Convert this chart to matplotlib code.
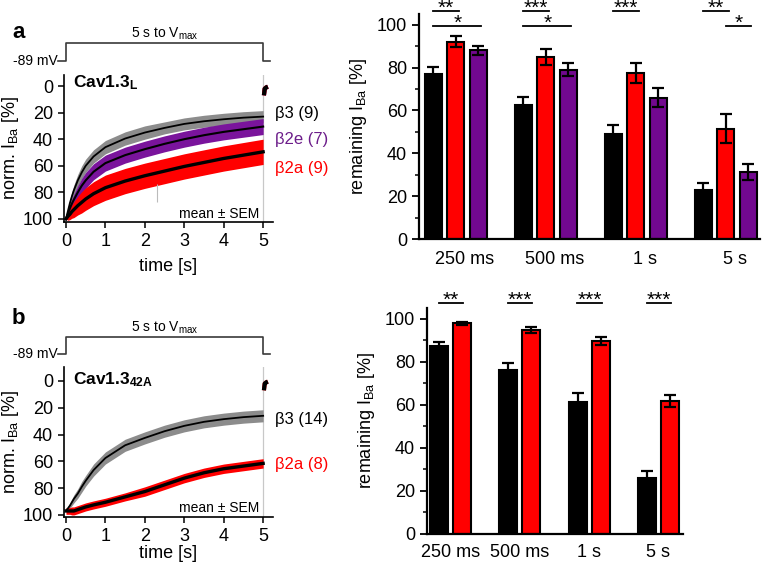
import matplotlib
matplotlib.use("Agg")
import matplotlib.pyplot as plt
import numpy as np
from matplotlib.ticker import MultipleLocator

plt.rcParams["font.family"] = ["Liberation Sans", "DejaVu Sans"]
plt.rcParams["mathtext.fontset"] = "custom"
plt.rcParams["mathtext.rm"] = "Liberation Sans"
plt.rcParams["mathtext.it"] = "Liberation Sans:italic"
plt.rcParams["mathtext.bf"] = "Liberation Sans:bold"

W, H = 762, 565

GRAY = "#8c8c8c"
PURPLE = "#72088f"
PURPLE_BAND = "#7a149c"
RED = "#ff0000"

# ---- traces: time [s] vs norm. I_Ba [%] ----
T = [0, 0.05, 0.1, 0.15, 0.2, 0.3, 0.4, 0.5, 0.7, 1.0, 1.5, 2.0, 2.5, 3.0, 3.5, 4.0, 4.5, 5.0]

# panel a
B3_A = [100, 94, 88, 83, 78.5, 71, 65, 60, 53, 46, 39.5, 35, 31.5, 28.5, 26.5, 25, 23.8, 23]
B3_A_SEM = [0, 2, 3, 3.5, 4, 4.5, 5, 5, 5, 5, 5, 5, 4.5, 4.5, 4.5, 4.5, 4.5, 4.5]
B2E_A = [100, 96, 92, 88.5, 85.5, 80, 75, 71, 64.5, 58, 52, 47.5, 43.5, 40, 37, 34.5, 32.5, 30.5]
B2E_A_SEM = [0, 2, 3, 3.5, 4, 5, 5.5, 6, 6, 6, 6, 6, 6, 6, 6, 6, 6, 6]
B2A_A = [100, 98, 96.5, 94.5, 93, 90, 87.5, 85, 81, 76.5, 71.5, 67.5, 64, 60.5, 57.5, 54.5, 52, 49.5]
B2A_A_SEM = [0, 3, 4, 5, 6, 7, 8, 8.5, 9, 9.5, 9.5, 9.5, 9.5, 9.5, 9.5, 9.5, 9.5, 9.5]

# panel b
B3_B = [97, 95, 93, 90.5, 88, 84, 79, 74.5, 66.5, 57.5, 48, 42.5, 37.5, 33.5, 30.5, 28.5, 27, 26]
B3_B_SEM = [0, 1.5, 2, 2.5, 3, 3.5, 4, 4, 4.5, 4.5, 4.5, 4.5, 4.5, 4.5, 4.5, 4.5, 4.5, 4.5]
B2A_B = [97, 97, 97, 97, 97, 96, 95, 94, 92.5, 90.5, 86.5, 82.5, 77.5, 72.5, 68.5, 65.5, 63.5, 61.5]
B2A_B_SEM = [2.5, 2.5, 2.5, 3, 3, 3, 3, 3, 3, 3, 3, 3.5, 3.5, 3.5, 3.5, 3.5, 3.5, 3.5]

# tail current after repolarisation
TAIL_T = [5.02, 5.04, 5.08, 5.12]
TAIL_I = [7, 2, 1, 0.5]
STEP_END = 5.0
ARTIFACT_T = 2.31
ARTIFACT_I = [74, 87]

# voltage protocol
PROTOCOL_T = [-0.2, 0, 0, 5, 5, 5.18]
PROTOCOL_LEVEL = [0, 0, 1, 1, 0, 0]

# ---- bar charts: remaining I_Ba [%] ----
TIMES = ["250 ms", "500 ms", "1 s", "5 s"]
BAR_A_B3 = [77, 62.5, 49, 22.7]
BAR_A_B3_ERR = [3.4, 3.9, 4.2, 3.3]
BAR_A_B2A = [92, 85, 77.5, 51.5]
BAR_A_B2A_ERR = [2.5, 3.6, 4.8, 6.7]
BAR_A_B2E = [88, 79, 66, 31.3]
BAR_A_B2E_ERR = [2.2, 3.1, 4.3, 3.9]

BAR_B_B3 = [87.3, 76, 61.5, 26]
BAR_B_B3_ERR = [2, 3.4, 4.2, 3.4]
BAR_B_B2A = [97.8, 95, 89.8, 62]
BAR_B_B2A_ERR = [0.7, 1.4, 1.9, 2.8]

# significance: group, from bar, to bar, row, stars
SIG_A_GROUP = [0, 0, 1, 1, 2, 3, 3]
SIG_A_FROM = [0, 0, 0, 0, 0, 0, 1]
SIG_A_TO = [1, 2, 1, 2, 1, 1, 2]
SIG_A_ROW = [0, 1, 0, 1, 0, 0, 1]
SIG_A_STARS = ["**", "*", "***", "*", "***", "**", "*"]

SIG_B_STARS = ["**", "***", "***", "***"]


def px_box(left, top, right, bottom):
    return [left / W, 1 - bottom / H, (right - left) / W, (bottom - top) / H]


def style_trace_axes(ax, ylim):
    ax.set_xlim(-0.05, 5.25)
    ax.set_ylim(*ylim)
    for s in ["top", "right"]:
        ax.spines[s].set_visible(False)
    for s in ["left", "bottom"]:
        ax.spines[s].set_linewidth(1.2)
    ax.set_xticks(range(6))
    ax.set_yticks(range(0, 101, 20))
    ax.tick_params(direction="out", length=4, width=1.1, labelsize=13, pad=4)
    ax.set_ylabel(r"norm. I$_{\rm Ba}$ [%]", fontsize=13, labelpad=1)


def draw_band(ax, mean, sem, color, lw):
    t = np.asarray(T)
    mean = np.asarray(mean)
    sem = np.asarray(sem)
    ax.fill_between(t, mean - sem, mean + sem, color=color, lw=0)
    ax.plot(t, mean, color="black", lw=lw)


def draw_protocol(fig, box, ylim):
    pax = fig.add_axes(box)
    pax.plot(PROTOCOL_T, PROTOCOL_LEVEL, color="#3a3a3a", lw=1.2, clip_on=False)
    pax.set_xlim(-0.05, 5.25)
    pax.set_ylim(*ylim)
    pax.axis("off")
    pax.text(-0.22, 0, "-89 mV", ha="right", va="center", fontsize=10)
    pax.annotate(r"5 s to V$_{\rm max}$", xy=(2.5, 1), xytext=(0, 1),
                 textcoords="offset points", ha="center", va="bottom", fontsize=10)
    return pax


def style_bar_axes(ax, xlim):
    ax.set_xlim(*xlim)
    ax.set_ylim(0, 105)
    for s in ["top", "right"]:
        ax.spines[s].set_visible(False)
    for s in ["left", "bottom"]:
        ax.spines[s].set_linewidth(1.6)
    ax.set_yticks(range(0, 101, 20))
    ax.yaxis.set_minor_locator(MultipleLocator(10))
    ax.tick_params(axis="y", which="major", direction="out", length=5, width=1.3, labelsize=13)
    ax.tick_params(axis="y", which="minor", direction="out", length=3, width=1.1)
    ax.tick_params(axis="x", length=0, labelsize=13, pad=9)
    ax.set_ylabel(r"remaining I$_{\rm Ba}$ [%]", fontsize=13, labelpad=6)


def sig_bar(ax, x0, x1, y, stars):
    ax.plot([x0, x1], [y, y], color="black", lw=1.3, clip_on=False)
    ax.text((x0 + x1) / 2, y - 1.3, stars, ha="center", va="baseline",
            fontsize=15, clip_on=False)


fig = plt.figure(figsize=(W / 100, H / 100), dpi=100)

# ================= panel a, traces =================
ax_a = fig.add_axes(px_box(64, 75, 273, 222))
style_trace_axes(ax_a, (102.3, -8.3))
ax_a.axvline(STEP_END, color="#c8c8c8", lw=0.9, zorder=0)
draw_band(ax_a, B3_A, B3_A_SEM, GRAY, 1.3)
draw_band(ax_a, B2E_A, B2E_A_SEM, PURPLE_BAND, 1.5)
draw_band(ax_a, B2A_A, B2A_A_SEM, RED, 2.4)
ax_a.vlines(ARTIFACT_T, *ARTIFACT_I, color="#bbbbbb", lw=0.8, zorder=5)
for c in [PURPLE_BAND, RED, "black"]:
    ax_a.plot(TAIL_T, TAIL_I, color=c, lw=3, solid_capstyle="butt")
ax_a.set_xlabel("time [s]", fontsize=13, labelpad=6)
ax_a.text(0.18, -2.3, r"Cav1.3$_{\mathbf{L}}$", fontsize=12.5, fontweight="bold",
          ha="left", va="center")
ax_a.text(4.9, 96, "mean ± SEM", fontsize=10, ha="right", va="center")
ax_a.text(5.3, 20.3, "β3 (9)", fontsize=12, color="black", va="center", clip_on=False)
ax_a.text(5.3, 40.6, "β2e (7)", fontsize=12, color="#6c1d8a", va="center", clip_on=False)
ax_a.text(5.3, 61.7, "β2a (9)", fontsize=12, color=RED, va="center", clip_on=False)

draw_protocol(fig, px_box(64, 25, 273, 65), (-0.222, 2.0))
fig.text(12 / W, 1 - 32 / H, "a", fontsize=16, fontweight="bold", ha="left", va="center")

# ================= panel a, bars =================
bx_a = fig.add_axes(px_box(419, 14, 760, 239))
style_bar_axes(bx_a, (-0.41, 3.38))
xa = np.arange(len(TIMES))
wa = 0.19
err_kw = dict(ecolor="black", elinewidth=1.6, capsize=4, capthick=1.6)
bx_a.bar(xa - 0.25, BAR_A_B3, wa, yerr=BAR_A_B3_ERR, color="black",
         edgecolor="black", lw=1.5, error_kw=err_kw)
bx_a.bar(xa, BAR_A_B2A, wa, yerr=BAR_A_B2A_ERR, color=RED,
         edgecolor="black", lw=1.5, error_kw=err_kw)
bx_a.bar(xa + 0.25, BAR_A_B2E, wa, yerr=BAR_A_B2E_ERR, color=PURPLE,
         edgecolor="black", lw=1.5, error_kw=err_kw)
bx_a.set_xticks(xa + 0.1)
bx_a.set_xticklabels(TIMES)
offsets_a = [-0.25, 0, 0.25]
rows_a = [106.3, 99.5]
for g, i, j, r, s in zip(SIG_A_GROUP, SIG_A_FROM, SIG_A_TO, SIG_A_ROW, SIG_A_STARS):
    sig_bar(bx_a, g + offsets_a[i], g + offsets_a[j] + 0.03, rows_a[r], s)

# ================= panel b, traces =================
ax_b = fig.add_axes(px_box(64, 367, 273, 517))
style_trace_axes(ax_b, (101.5, -10.4))
ax_b.axvline(STEP_END, color="#c8c8c8", lw=0.9, zorder=0)
draw_band(ax_b, B3_B, B3_B_SEM, GRAY, 1.3)
draw_band(ax_b, B2A_B, B2A_B_SEM, RED, 2.4)
for c in [RED, "black"]:
    ax_b.plot(TAIL_T, TAIL_I, color=c, lw=3, solid_capstyle="butt")
ax_b.set_xlabel("time [s]", fontsize=13, labelpad=0)
ax_b.text(0.18, -0.7, r"Cav1.3$_{\mathbf{42A}}$", fontsize=12.5, fontweight="bold",
          ha="left", va="center")
ax_b.text(4.9, 94.8, "mean ± SEM", fontsize=10, ha="right", va="center")
ax_b.text(5.3, 29, "β3 (14)", fontsize=12, color="black", va="center", clip_on=False)
ax_b.text(5.3, 62.7, "β2a (8)", fontsize=12, color=RED, va="center", clip_on=False)

draw_protocol(fig, px_box(64, 318, 273, 358), (-0.235, 2.12))
fig.text(12 / W, 1 - 318 / H, "b", fontsize=16, fontweight="bold", ha="left", va="center")

# ================= panel b, bars =================
bx_b = fig.add_axes(px_box(427, 308, 683, 534))
style_bar_axes(bx_b, (-0.34, 3.355))
xb = np.arange(len(TIMES))
wb = 0.26
bx_b.bar(xb - 0.165, BAR_B_B3, wb, yerr=BAR_B_B3_ERR, color="black",
         edgecolor="black", lw=1.5, error_kw=err_kw)
bx_b.bar(xb + 0.165, BAR_B_B2A, wb, yerr=BAR_B_B2A_ERR, color=RED,
         edgecolor="black", lw=1.5, error_kw=err_kw)
bx_b.set_xticks(xb)
bx_b.set_xticklabels(TIMES)
bx_b.tick_params(axis="x", pad=7)
for g, s in zip(xb, SIG_B_STARS):
    sig_bar(bx_b, g - 0.17, g + 0.18, 107.4, s)

fig.savefig("out.png", dpi=100)
